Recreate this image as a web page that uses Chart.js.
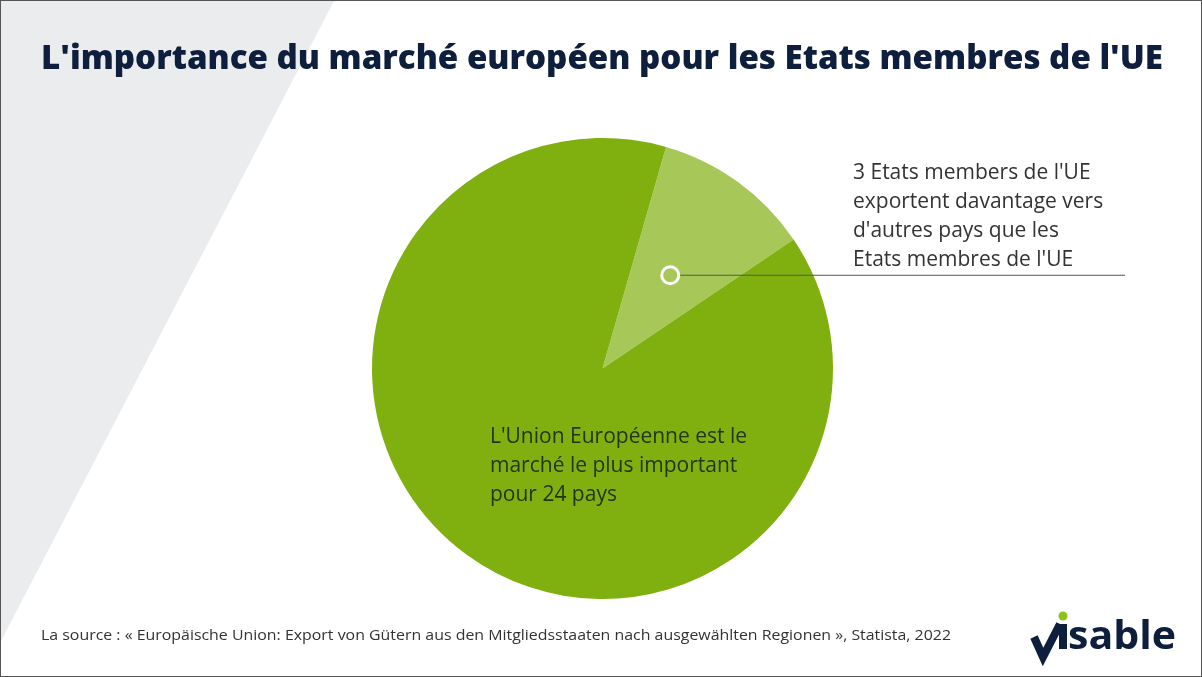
<!DOCTYPE html>
<html>
<head>
    <title>L'importance du marché européen</title>
    <style>
        body {
            margin: 0;
            width: 1202px;
            height: 677px;
            overflow: hidden;
            background: #ffffff;
            font-family: "Open Sans", Arial, sans-serif;
        }
        .frame {
            position: absolute;
            left: 0; top: 0;
            width: 1200px;
            height: 675px;
            border: 1px solid #555;
            overflow: hidden;
        }
        .bg-shape {
            position: absolute;
            left: 0; top: 0;
            width: 1202px; height: 677px;
        }
        #pie {
            position: absolute;
            left: 0; top: 0;
        }
        .txt {
            position: absolute;
            white-space: nowrap;
            transform-origin: 0 0;
        }
        .title {
            left: 40px;
            top: 32px;
            font-size: 34px;
            font-weight: 800;
            color: #0e1f3d;
        }
        .callout {
            left: 852px;
            top: 156px;
            font-size: 21px;
            line-height: 29px;
            color: #333333;
        }
        .inner {
            left: 489px;
            top: 420px;
            font-size: 21px;
            line-height: 29px;
            color: #22361a;
        }
        .source {
            left: 40px;
            top: 623px;
            font-size: 15px;
            color: #333333;
        }
        .logo {
            position: absolute;
            left: 1020px;
            top: 600px;
        }
    </style>
</head>
<body>
<div class="frame">
    <svg class="bg-shape" width="1202" height="677">
        <polygon points="0,0 333,0 0,640" fill="#ebecee"></polygon>
    </svg>
    <canvas id="pie" width="1202" height="677"></canvas>
    <div class="txt title" id="title"></div>
    <div class="txt callout" id="callout"></div>
    <div class="txt inner" id="inner"></div>
    <div class="txt source" id="source"></div>
    <svg class="logo" width="180" height="70">
        <path d="M13,36 L22,56 L39,23" fill="none" stroke="#0e1f3d" stroke-width="8" stroke-linejoin="miter"></path>
        <rect x="38" y="23" width="8" height="25" fill="#0e1f3d"></rect>
        <circle cx="42" cy="15" r="4.5" fill="#8cc21a"></circle>
        <text x="47" y="48" font-family="Open Sans, sans-serif" font-weight="700" font-size="40" fill="#0e1f3d" textLength="108" lengthAdjust="spacingAndGlyphs">sable</text>
    </svg>
</div>

<script src="https://cdn.jsdelivr.net/npm/chart.js"></script>
<script>
    const titleText = "L'importance du marché européen pour les Etats membres de l'UE";
    const sourceText = "La source : « Europäische Union: Export von Gütern aus den Mitgliedsstaaten nach ausgewählten Regionen », Statista, 2022";
    const categories = ["Exportent davantage hors UE", "UE = marché le plus important"];
    const countries = [3, 24];
    const calloutLines = ["3 Etats members de l'UE", "exportent davantage vers", "d'autres pays que les", "Etats membres de l'UE"];
    const innerLines = ["L'Union Européenne est le", "marché le plus important", "pour 24 pays"];

    function fill(id, lines) {
        const el = document.getElementById(id);
        el.innerHTML = lines.map(l => l.replace(/&/g, '&amp;').replace(/</g, '&lt;')).join('<br>');
        return el;
    }

    function fitWidth(el, w) {
        const cur = el.getBoundingClientRect().width;
        el.style.transform = 'scaleX(' + (w / cur) + ')';
    }

    fitWidth(fill('title', [titleText]), 1122);
    fitWidth(fill('source', [sourceText]), 910);
    fill('callout', calloutLines);
    fill('inner', innerLines);

    // marker + leader line for the small slice
    const calloutPlugin = {
        id: 'callout',
        afterDatasetsDraw(chart) {
            const arc = chart.getDatasetMeta(0).data[0];
            const p = arc.tooltipPosition();
            const ctx = chart.ctx;
            ctx.save();
            ctx.strokeStyle = '#555555';
            ctx.lineWidth = 1;
            ctx.beginPath();
            ctx.moveTo(p.x, p.y);
            ctx.lineTo(1124, p.y);
            ctx.stroke();
            ctx.beginPath();
            ctx.arc(p.x, p.y, 8.5, 0, Math.PI * 2);
            ctx.fillStyle = '#a7c858';
            ctx.fill();
            ctx.lineWidth = 3;
            ctx.strokeStyle = '#ffffff';
            ctx.stroke();
            ctx.restore();
        }
    };

    new Chart(document.getElementById('pie'), {
        type: 'pie',
        data: {
            labels: categories,
            datasets: [{
                data: countries,
                backgroundColor: ['#a7c858', '#80b00f'],
                borderWidth: 0
            }]
        },
        options: {
            responsive: false,
            animation: false,
            rotation: 16,
            layout: {
                padding: { left: 371, right: 370, top: 137, bottom: 79 }
            },
            plugins: {
                legend: { display: false },
                tooltip: { enabled: false }
            }
        },
        plugins: [calloutPlugin]
    });
</script>
</body>
</html>
